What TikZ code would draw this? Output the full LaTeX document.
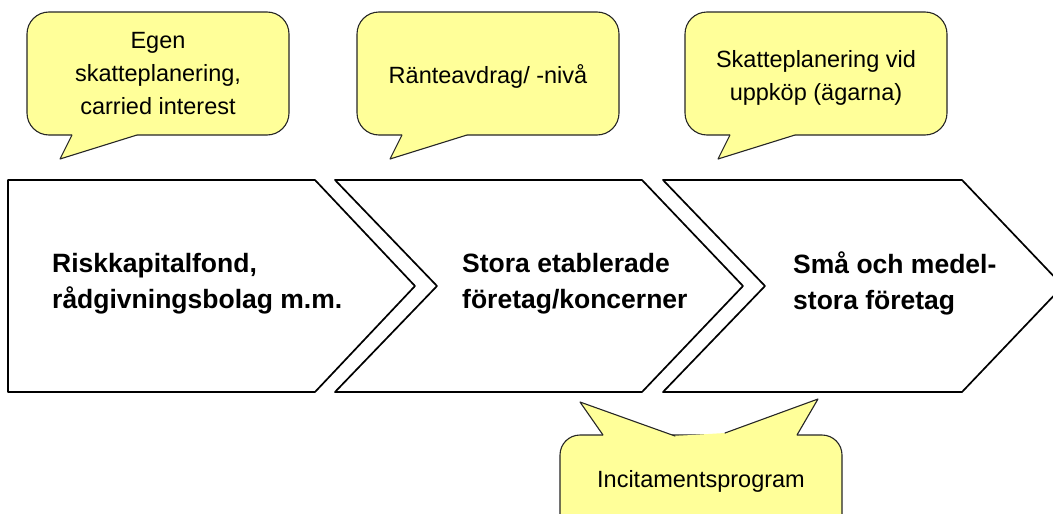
\documentclass[tikz,border=0pt]{standalone}
\usepackage{fontspec}
\setmainfont{Liberation Sans}
\definecolor{bubblefill}{RGB}{255,255,153}
\begin{document}
\begin{tikzpicture}[line join=round, line cap=round, x=1pt, y=-1pt,
    chev/.style={draw=black, line width=1.7pt, fill=white},
    bubble/.style={draw=black!85, line width=1.1pt, fill=bubblefill},
    chevtext/.style={anchor=base west, align=left, inner sep=0pt, font=\fontsize{26.5}{36}\selectfont\bfseries},
    bubbletext/.style={align=center, inner sep=0pt, font=\fontsize{23.5}{33}\selectfont}
    ]
    \useasboundingbox (0,0) rectangle (1053,514);
    %pilarna
    \draw[chev] (8,180) -- (315,180) -- (415,286) -- (315,392) -- (8,392) -- cycle;
    \foreach \a/\b in {335/642,663/962}
    \draw[chev] (\a,180) -- (\b,180) -- (\b+101,286) -- (\b,392) -- (\a,392) -- (\a+102,286) -- cycle;
    \node[chevtext] (fond) at (52,308) {Riskkapitalfond,\\rådgivningsbolag m.m.};
    \node[chevtext] (stora) at (462,308) {Stora etablerade\\företag/koncerner};
    \node[chevtext] (sma) at (793,309) {Små och medel-\\stora företag};
    %pratbubblor
    \foreach \l in {27,357,685}{
        \draw[bubble, rounded corners=22] (\l,12) rectangle (\l+262,135);
        \fill[bubblefill] (\l+45,133) -- (\l+110,133) -- (\l+110,135) -- (\l+33,159) -- (\l+45,135) -- cycle;
        \draw[bubble, fill=none] (\l+45,135) -- (\l+33,159) -- (\l+110,135);
    }
    \draw[bubble, rounded corners=20] (560,435) rectangle (842,600);
    \fill[bubblefill] (603,435) -- (580,402) -- (675,436) -- (725,433) -- (818,399) -- (797,435) -- (797,437) -- (603,437) -- cycle;
    \draw[bubble, fill=none] (603,435) -- (580,402) -- (675,436) (725,433) -- (818,399) -- (797,435);
    \node[bubbletext] (egen) at (158,74) {Egen\\skatteplanering,\\carried interest};
    \node[bubbletext] (ranta) at (488,76) {Ränteavdrag/ -nivå};
    \node[bubbletext] (uppkop) at (816,77.5) {Skatteplanering vid\\uppköp (ägarna)};
    \node[bubbletext] (incitament) at (701,481) {Incitamentsprogram};
\end{tikzpicture}
\end{document}
